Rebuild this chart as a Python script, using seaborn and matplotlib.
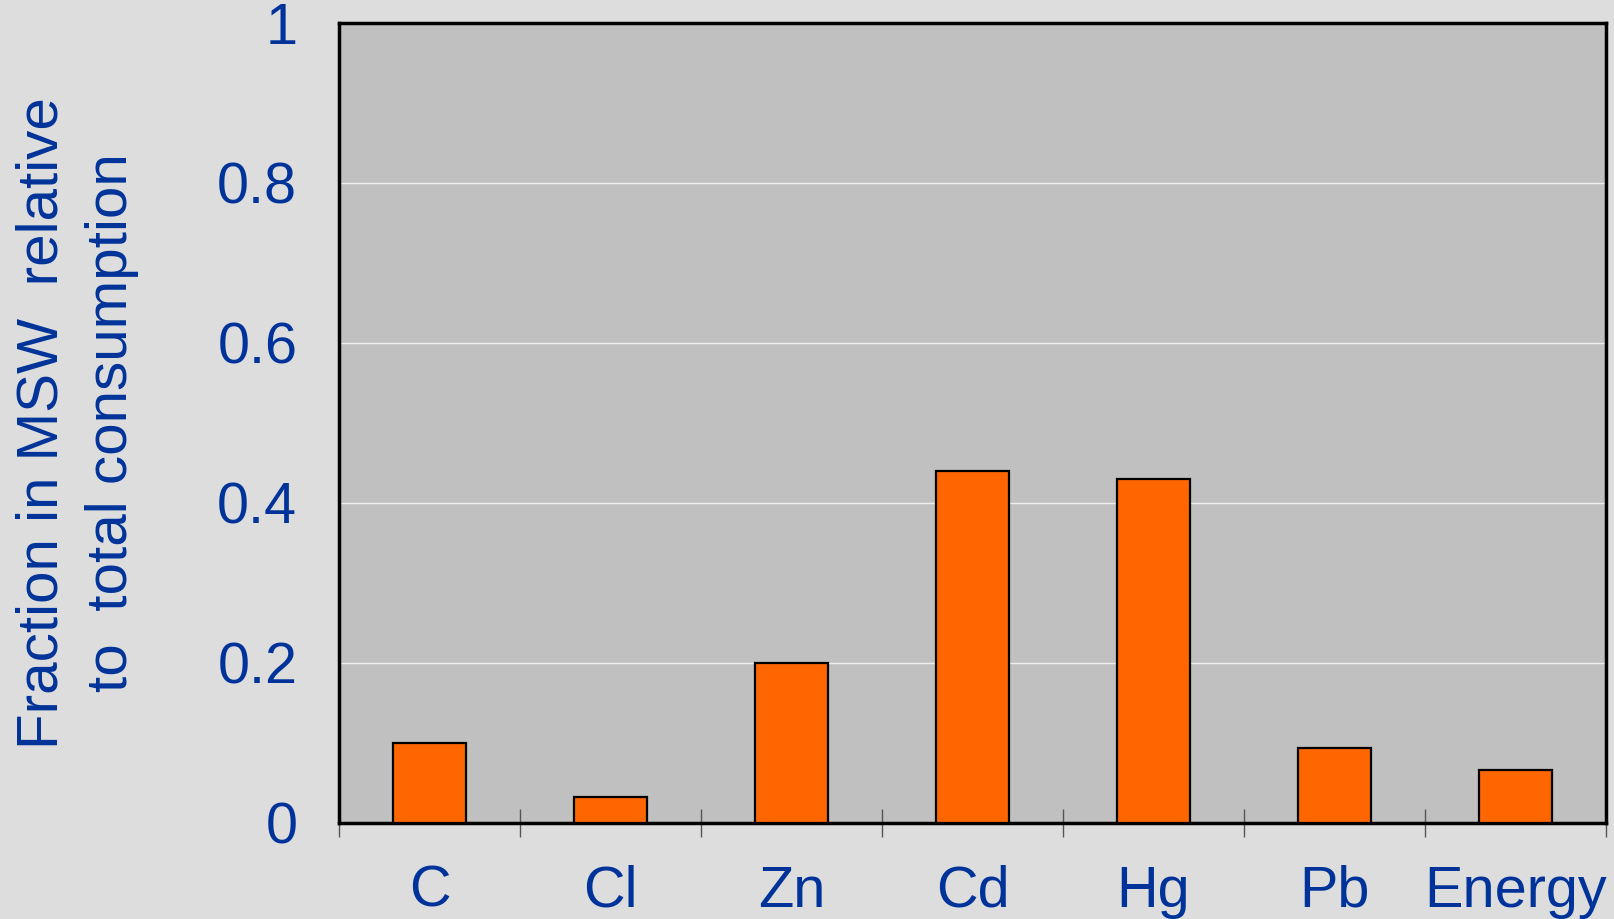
import matplotlib
matplotlib.use("Agg")
import matplotlib.pyplot as plt
from matplotlib import font_manager
from matplotlib.ticker import FixedLocator
import seaborn as sns
import pandas as pd

# Share of each substance ending up in municipal solid waste
categories = ["C", "Cl", "Zn", "Cd", "Hg", "Pb", "Energy"]
fractions = [0.10, 0.032, 0.20, 0.44, 0.43, 0.094, 0.066]
y_ticks = [0, 0.2, 0.4, 0.6, 0.8, 1]
y_tick_labels = ["0", "0.2", "0.4", "0.6", "0.8", "1"]

TEXT_BLUE = "#003399"
BAR_ORANGE = "#FF6600"

sns.set_theme(style="white")
plt.rcParams["font.family"] = ["Liberation Sans", "DejaVu Sans"]

installed = {f.name for f in font_manager.fontManager.ttflist}
narrow = "Liberation Sans Narrow" if "Liberation Sans Narrow" in installed else "Liberation Sans"

df = pd.DataFrame({"item": categories, "fraction": fractions})

fig = plt.figure(figsize=(16.15, 9.19), dpi=100, facecolor="#DDDDDD")
ax = fig.add_axes([0.2099, 0.1045, 0.7845, 0.8705])
ax.set_facecolor("#C0C0C0")

sns.barplot(data=df, x="item", y="fraction", order=categories, color=BAR_ORANGE,
            saturation=1, width=0.4, edgecolor="black", linewidth=1.6, ax=ax, zorder=3)

ax.set_xlim(-0.5, len(categories) - 0.5)
ax.set_ylim(0, 1)

# Horizontal reference lines
ax.set_yticks(y_ticks)
ax.set_yticklabels(y_tick_labels)
ax.yaxis.grid(True, color="#EEEEEE", linewidth=1.0, zorder=0)
ax.set_axisbelow(True)

# Category labels at bar centres, separator ticks between categories
ax.set_xticks(range(len(categories)))
ax.set_xticklabels(categories)
ax.xaxis.set_minor_locator(FixedLocator([i - 0.5 for i in range(len(categories) + 1)]))
ax.tick_params(axis="x", which="major", length=0, pad=30, labelsize=41.5, labelcolor=TEXT_BLUE)
ax.tick_params(axis="x", which="minor", direction="inout", length=20, width=1.0,
               color="#555555", bottom=True)
ax.tick_params(axis="y", which="major", length=0, pad=30, labelsize=41.5, labelcolor=TEXT_BLUE)
for lbl in ax.get_yticklabels():
    lbl.set_verticalalignment("center_baseline")

for spine in ax.spines.values():
    spine.set_visible(True)
    spine.set_color("black")
    spine.set_linewidth(2.5)

ax.set_xlabel("")
ax.set_ylabel("Fraction in MSW  relative\nto  total consumption", color=TEXT_BLUE,
              fontsize=42, family=[narrow, "DejaVu Sans"], linespacing=1.38, labelpad=56)

fig.savefig("out.png", dpi=100, facecolor=fig.get_facecolor())
